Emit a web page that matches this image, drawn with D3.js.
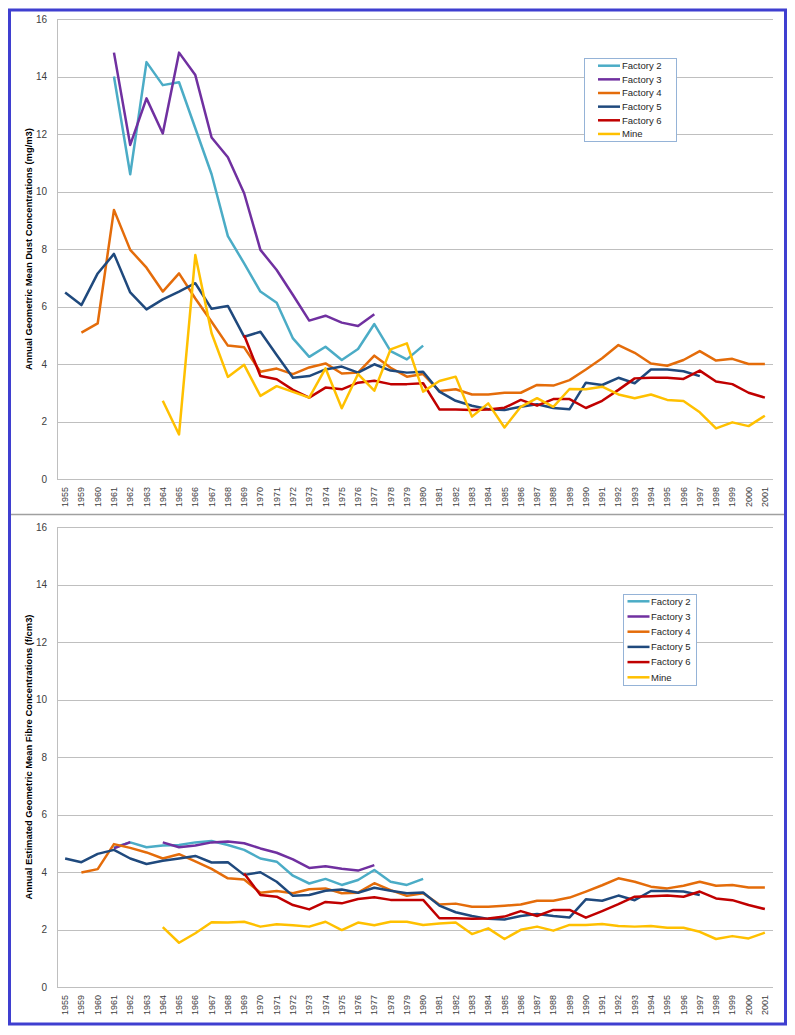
<!DOCTYPE html>
<html>
<head>
<meta charset="utf-8">
<script src="https://cdn.jsdelivr.net/npm/d3@7/dist/d3.min.js"></script>
<style>
body{margin:0;background:#fff;}
svg{display:block;font-family:"Liberation Sans",Arial,sans-serif;}
</style>
</head>
<body>
<svg id="c" width="795" height="1035"></svg>
<script>
const years = ["1955","1959","1960","1961","1962","1963","1964","1965","1966","1967","1968","1969","1970","1971","1972","1973","1974","1975","1976","1977","1978","1979","1980","1981","1982","1983","1984","1985","1986","1987","1988","1989","1990","1991","1992","1993","1994","1995","1996","1997","1998","1999","2000","2001"];
const yTicks = [0,2,4,6,8,10,12,14,16];
const seriesNames = ["Factory 2","Factory 3","Factory 4","Factory 5","Factory 6","Mine"];
const seriesColors = ["#4BACC6","#7030A0","#E46C0A","#1F497D","#C00000","#FFC000"];
const _ = null;

// Dust (mg/m3)
const dustF2 = [_,_,_,14.0,10.6,14.5,13.7,13.8,12.2,10.6,8.45,7.5,6.52,6.13,4.89,4.25,4.6,4.14,4.52,5.39,4.45,4.16,4.64,_,_,_,_,_,_,_,_,_,_,_,_,_,_,_,_,_,_,_,_,_];
const dustF3 = [_,_,_,14.83,11.62,13.24,12.02,14.83,14.05,11.88,11.19,9.94,7.97,7.27,6.4,5.51,5.68,5.44,5.32,5.73,_,_,_,_,_,_,_,_,_,_,_,_,_,_,_,_,_,_,_,_,_,_,_,_];
const dustF4 = [_,5.09,5.41,9.36,7.97,7.35,6.52,7.15,6.28,5.47,4.64,4.58,3.73,3.84,3.65,3.88,4.02,3.67,3.7,4.29,3.87,3.56,3.65,3.06,3.12,2.94,2.94,3.0,3.0,3.27,3.25,3.44,3.81,4.2,4.66,4.39,4.02,3.94,4.14,4.45,4.12,4.18,4.0,4.0];
const dustF5 = [6.49,6.05,7.15,7.83,6.49,5.9,6.25,6.52,6.81,5.92,6.02,4.95,5.12,4.31,3.52,3.58,3.81,3.91,3.7,3.99,3.77,3.7,3.73,3.04,2.72,2.55,2.43,2.4,2.51,2.6,2.47,2.43,3.35,3.27,3.52,3.33,3.81,3.81,3.75,3.58,_,_,_,_];
const dustF6 = [_,_,_,_,_,_,_,_,_,_,_,5.0,3.58,3.47,3.1,2.83,3.18,3.12,3.35,3.42,3.3,3.3,3.33,2.42,2.42,2.4,2.42,2.48,2.75,2.55,2.78,2.78,2.47,2.72,3.1,3.5,3.52,3.52,3.48,3.77,3.39,3.3,3.0,2.83];
const dustMine = [_,_,_,_,_,_,2.72,1.55,7.79,5.07,3.55,3.97,2.89,3.23,3.03,2.83,3.85,2.46,3.65,3.07,4.51,4.72,3.04,3.41,3.56,2.17,2.63,1.79,2.51,2.81,2.51,3.13,3.12,3.21,2.94,2.81,2.94,2.75,2.71,2.32,1.76,1.97,1.84,2.2];

// Fibre (f/cm3)
const fibF2 = [_,_,_,4.85,5.03,4.86,4.92,4.94,5.03,5.08,4.94,4.77,4.47,4.36,3.87,3.6,3.76,3.55,3.72,4.07,3.66,3.55,3.76,_,_,_,_,_,_,_,_,_,_,_,_,_,_,_,_,_,_,_,_,_];
const fibF3 = [_,_,_,4.82,5.04,_,5.03,4.86,4.92,5.03,5.06,5.0,4.82,4.67,4.44,4.14,4.2,4.11,4.05,4.24,_,_,_,_,_,_,_,_,_,_,_,_,_,_,_,_,_,_,_,_,_,_,_,_];
const fibF4 = [_,3.98,4.1,4.97,4.84,4.68,4.47,4.62,4.37,4.11,3.78,3.74,3.28,3.34,3.26,3.4,3.43,3.26,3.28,3.61,3.37,3.17,3.26,2.87,2.9,2.79,2.79,2.83,2.87,3.0,3.0,3.11,3.32,3.54,3.78,3.66,3.49,3.43,3.52,3.66,3.52,3.55,3.46,3.46];
const fibF5 = [4.47,4.34,4.63,4.77,4.47,4.28,4.39,4.47,4.56,4.33,4.34,3.9,3.99,3.66,3.17,3.2,3.35,3.39,3.28,3.45,3.35,3.26,3.29,2.83,2.6,2.47,2.37,2.35,2.47,2.54,2.47,2.42,3.05,3.0,3.18,3.02,3.34,3.34,3.32,3.2,_,_,_,_];
const fibF6 = [_,_,_,_,_,_,_,_,_,_,_,3.95,3.2,3.14,2.85,2.7,2.96,2.91,3.06,3.12,3.03,3.03,3.03,2.39,2.39,2.37,2.38,2.45,2.64,2.47,2.68,2.68,2.41,2.64,2.88,3.14,3.16,3.18,3.14,3.32,3.08,3.02,2.85,2.71];
const fibMine = [_,_,_,_,_,_,2.08,1.54,1.87,2.25,2.24,2.27,2.1,2.18,2.15,2.1,2.27,1.98,2.24,2.15,2.27,2.27,2.16,2.21,2.24,1.84,2.04,1.67,1.99,2.1,1.96,2.16,2.16,2.19,2.12,2.1,2.12,2.06,2.06,1.92,1.67,1.77,1.69,1.89];

const svg = d3.select("#c");
svg.append("rect").attr("width",795).attr("height",1035).attr("fill","#fff");

function drawChart(cfg){
  const g = svg.append("g");
  const x = d3.scaleBand().domain(years).range([57,773]).padding(0);
  const y = d3.scaleLinear().domain([0,16]).range([cfg.bottom,cfg.top]);
  g.append("g").selectAll("line").data(yTicks).join("line")
    .attr("x1",57).attr("x2",773)
    .attr("y1",d=>Math.round(y(d))+0.5).attr("y2",d=>Math.round(y(d))+0.5)
    .attr("stroke","#BFBFBF").attr("stroke-width",1);
  g.append("line").attr("x1",57.5).attr("x2",57.5)
    .attr("y1",cfg.top).attr("y2",cfg.bottom+0.5)
    .attr("stroke","#BFBFBF");
  const ya = d3.axisLeft(y).tickValues(yTicks).tickSize(0).tickPadding(0);
  const yg = g.append("g").attr("transform","translate(47,0)").call(ya);
  yg.select(".domain").remove();
  yg.selectAll("text").attr("font-size","10px").attr("fill","#404040")
    .attr("font-family","'Liberation Sans',Arial,sans-serif");
  const xa = d3.axisBottom(x).tickSize(0).tickPadding(0);
  const xg = g.append("g").attr("transform",`translate(0,${cfg.bottom})`).call(xa);
  xg.select(".domain").remove();
  xg.selectAll("text")
    .attr("font-size","9px").attr("fill","#404040")
    .attr("font-family","'Liberation Sans',Arial,sans-serif")
    .attr("text-anchor","end")
    .attr("dy",null).attr("y",0)
    .attr("transform","translate(3,8) rotate(-90)");
  g.append("text")
    .attr("transform",`translate(31.5,${cfg.titleY}) rotate(-90)`)
    .attr("text-anchor","middle").attr("font-size",cfg.titleSize).attr("font-weight","bold")
    .attr("textLength",cfg.titleLen).attr("lengthAdjust","spacingAndGlyphs")
    .attr("fill","#000").text(cfg.title);
  const line = d3.line()
    .defined(d=>d.v!==null)
    .x(d=>x(d.k)+x.bandwidth()/2)
    .y(d=>y(d.v));
  cfg.series.forEach((arr,i)=>{
    const pts = years.map((k,j)=>({k:k,v:arr[j]}));
    g.append("path").datum(pts).attr("d",line)
      .attr("fill","none").attr("stroke",seriesColors[i])
      .attr("stroke-width",2.5).attr("stroke-linejoin","round");
  });
  const L = cfg.legend;
  const lg = g.append("g");
  lg.append("rect").attr("x",L.x+0.5).attr("y",L.y+0.5).attr("width",L.w).attr("height",L.h)
    .attr("fill","#fff").attr("stroke","#95B3D7").attr("stroke-width",1);
  seriesNames.forEach((n,i)=>{
    const cy = L.y0 + i*L.step;
    lg.append("line").attr("x1",L.lx1).attr("x2",L.lx2).attr("y1",cy).attr("y2",cy)
      .attr("stroke",seriesColors[i]).attr("stroke-width",2.5);
    lg.append("text").attr("x",L.tx).attr("y",cy).attr("dy","0.35em")
      .attr("font-size","9.5px").attr("fill","#262626").text(n);
  });
}

drawChart({top:19,bottom:479,titleY:249,titleSize:"9.5px",titleLen:242,
  title:"Annual Geometric Mean Dust Concentrations (mg/m3)",
  series:[dustF2,dustF3,dustF4,dustF5,dustF6,dustMine],
  legend:{x:584,y:58,w:92,h:83,y0:65.7,step:13.65,lx1:598,lx2:620,tx:622}});
drawChart({top:527,bottom:987,titleY:757,titleSize:"9px",titleLen:285,
  title:"Annual Estimated Geometric Mean Fibre Concentrations (f/cm3)",
  series:[fibF2,fibF3,fibF4,fibF5,fibF6,fibMine],
  legend:{x:623,y:594,w:73,h:91,y0:601.3,step:15.2,lx1:627.5,lx2:649.5,tx:651}});

svg.append("line").attr("x1",10).attr("x2",785).attr("y1",514.5).attr("y2",514.5)
  .attr("stroke","#A0A0A0").attr("stroke-width",1.5);
svg.append("rect").attr("x",9.5).attr("y",10).attr("width",776).attr("height",1014)
  .attr("fill","none").attr("stroke","#3F3FD0").attr("stroke-width",3);
</script>
</body>
</html>
